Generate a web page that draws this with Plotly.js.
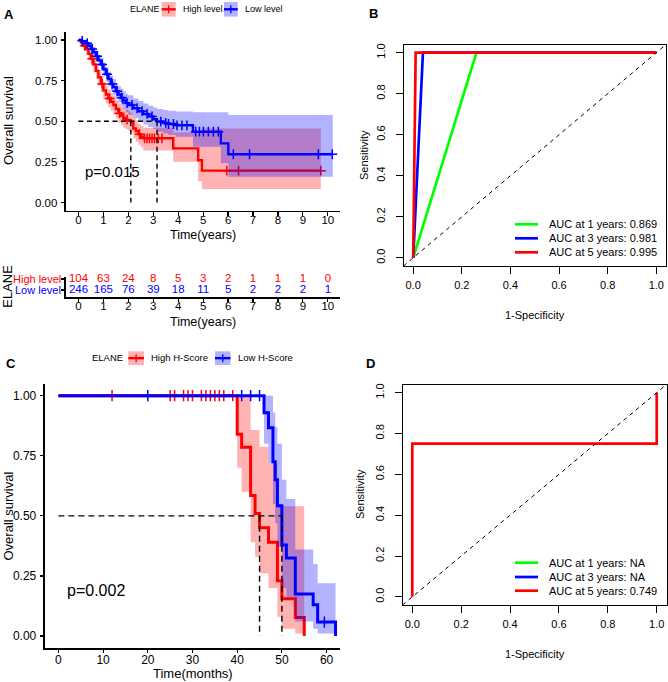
<!DOCTYPE html>
<html><head><meta charset="utf-8">
<script src="https://cdn.plot.ly/plotly-3.0.1.min.js"></script>
<style>html,body{margin:0;padding:0;background:#fff}#plot{width:668px;height:682px}</style>
</head><body><div id="plot"></div>
<script>
// ---------------- Panel A: KM (years) ----------------
const aTicks = [0,1,2,3,4,5,6,7,8,9,10];
const aRedT  = [0,0.1,0.2,0.3,0.4,0.5,0.6,0.7,0.8,0.9,1.0,1.1,1.2,1.3,1.4,1.5,1.6,1.7,1.8,1.9,2.0,2.1,2.2,2.3,2.4,2.5,2.6,3.8,4.8,4.95];
const aRedS  = [1,0.985,0.965,0.945,0.915,0.885,0.85,0.81,0.77,0.73,0.69,0.665,0.64,0.62,0.60,0.575,0.55,0.535,0.52,0.51,0.505,0.495,0.455,0.44,0.42,0.405,0.395,0.333,0.26,0.196];
const aRedUp = [1,1,0.99,0.975,0.95,0.925,0.89,0.855,0.815,0.78,0.74,0.715,0.695,0.675,0.655,0.63,0.61,0.595,0.58,0.57,0.56,0.55,0.52,0.505,0.485,0.47,0.46,0.43,0.44,0.456];
const aRedLo = [1,0.96,0.935,0.91,0.875,0.84,0.80,0.76,0.72,0.68,0.635,0.61,0.585,0.565,0.54,0.515,0.49,0.475,0.46,0.45,0.44,0.43,0.395,0.375,0.355,0.34,0.32,0.25,0.13,0.083];
const aRedEnd = 9.72;
const aRedCens = [0.25,0.55,0.95,1.25,1.65,1.95,2.45,2.65,2.75,2.85,2.95,3.05,3.2,3.35,5.95,6.42,9.72];

const aBlueT  = [0,0.1,0.2,0.3,0.4,0.5,0.6,0.7,0.8,0.9,1.0,1.1,1.2,1.3,1.4,1.5,1.6,1.7,1.8,1.9,2.0,2.2,2.4,2.6,2.8,3.0,3.15,3.4,3.6,3.9,4.59,5.71,6.01];
const aBlueS  = [1,0.995,0.99,0.98,0.965,0.945,0.925,0.90,0.875,0.85,0.82,0.79,0.76,0.73,0.71,0.685,0.665,0.645,0.628,0.612,0.60,0.58,0.562,0.545,0.53,0.512,0.498,0.49,0.483,0.475,0.436,0.364,0.297];
const aBlueUp = [1,1,1,0.995,0.985,0.97,0.955,0.935,0.91,0.89,0.86,0.835,0.805,0.78,0.76,0.735,0.715,0.70,0.685,0.67,0.66,0.64,0.625,0.61,0.595,0.585,0.575,0.57,0.565,0.56,0.555,0.555,0.538];
const aBlueLo = [1,0.985,0.975,0.965,0.945,0.92,0.895,0.865,0.84,0.81,0.78,0.745,0.715,0.685,0.66,0.635,0.615,0.595,0.575,0.555,0.54,0.52,0.50,0.48,0.465,0.45,0.435,0.425,0.415,0.405,0.343,0.241,0.159];
const aBlueEnd = 10.2;
const aBlueCens = [0.15,0.35,0.55,0.75,0.95,1.15,1.35,1.55,1.75,1.95,2.15,2.35,2.55,2.75,2.95,3.3,3.5,3.61,3.81,3.95,4.15,4.35,4.7,4.85,5.01,5.21,5.41,5.61,6.21,6.86,9.62,10.18];

const aRiskHigh = [104,63,24,8,5,3,2,1,1,1,0];
const aRiskLow  = [246,165,76,39,18,11,5,2,2,2,1];
const aGroups = ['High level','Low level'];
const aPval = 'p=0.015';

// ---------------- Panel B: ROC ----------------
const rocTicks = [0,0.2,0.4,0.6,0.8,1.0];
const bFpr1 = [0,0.26,1], bTpr1 = [0,1,1];
const bFpr3 = [0,0.04,1], bTpr3 = [0,1,1];
const bFpr5 = [0,0.01,1], bTpr5 = [0,1,1];
const bLabels = ['AUC at 1 years: 0.869','AUC at 3 years: 0.981','AUC at 5 years: 0.995'];

// ---------------- Panel C: KM (months) ----------------
const cTicks = [0,10,20,30,40,50,60];
const cRedT  = [0,40,41,43,44,45,47,49,50,53,55];
const cRedS  = [1,0.84,0.785,0.585,0.51,0.45,0.39,0.23,0.155,0.077,0];
const cRedUp = [1,1,1,0.857,0.857,0.788,0.72,0.54,0.54,0.54,0.54];
const cRedLo = [1,0.70,0.60,0.39,0.33,0.26,0.20,0.08,0.03,0.01,0.01];
const cRedCens = [12,25,26,28,29,30,32,33,34,35,36,37,39];
const cBlueT  = [0,46,47,48,48.5,49,50,51,53,57,58,62];
const cBlueS  = [1,0.929,0.867,0.725,0.65,0.542,0.379,0.325,0.175,0.13,0.058,0];
const cBlueUp = [1,1,1,0.93,0.87,0.80,0.65,0.57,0.36,0.30,0.22,0.22];
const cBlueLo = [1,0.80,0.72,0.55,0.47,0.37,0.20,0.16,0.06,0.03,0.01,0.01];
const cBlueCens = [20,41,43,45,59.5];
const cGroups = ['High H-Score','Low H-Score'];
const cPval = 'p=0.002';

// ---------------- Panel D: ROC ----------------
const dFpr5 = [0,0,1,1], dTpr5 = [0,0.75,0.75,1];
const dLabels = ['AUC at 1 years: NA','AUC at 3 years: NA','AUC at 5 years: 0.749'];

// ---------------- helpers ----------------
const W = 668, H = 682;
const px = x => x / W, py = y => 1 - y / H;
const fam = 'Liberation Sans, Arial, sans-serif';
const RED = '#FF0000', BLUE = '#0000FF', GREEN = '#00FF00';
const RED_F = 'rgba(255,0,0,0.3)', BLUE_F = 'rgba(0,0,255,0.3)';

function ext(ts, vs, end){ return end > ts[ts.length-1] ? [ts.concat([end]), vs.concat([vs[vs.length-1]])] : [ts, vs]; }
function sAt(ts, ss, t){ let v = ss[0]; for (let i=0;i<ts.length;i++) if (ts[i] <= t) v = ss[i]; return v; }
function median(ts, ss){ for (let i=0;i<ts.length;i++) if (ss[i] <= 0.5) return ts[i]; return null; }

const traces = [];
function kmGroup(ts, ss, lo, up, end, cens, col, fill, xa, ya, lw, msize){
  const [xl, yl] = ext(ts, lo, end);
  const [xu, yu] = ext(ts, up, end);
  traces.push({x:xl, y:yl, xaxis:xa, yaxis:ya, mode:'lines', line:{width:0, shape:'hv'}, hoverinfo:'skip', showlegend:false});
  traces.push({x:xu, y:yu, xaxis:xa, yaxis:ya, mode:'lines', line:{width:0, shape:'hv'}, fill:'tonexty', fillcolor:fill, hoverinfo:'skip', showlegend:false});
  const [xs, ys] = ext(ts, ss, end);
  traces.push({x:xs, y:ys, xaxis:xa, yaxis:ya, mode:'lines', line:{width:lw, color:col, shape:'hv'}, hoverinfo:'skip', showlegend:false});
  traces.push({x:cens, y:cens.map(t => sAt(ts, ss, t)), xaxis:xa, yaxis:ya, mode:'markers', cliponaxis:false,
    marker:{symbol:'cross-thin', size:msize, line:{width:1.5, color:col}, color:col}, hoverinfo:'skip', showlegend:false});
}
function medianLines(t1, s1, t2, s2, xa, ya, dash){
  const m1 = median(t1, s1), m2 = median(t2, s2);
  traces.push({x:[0, Math.max(m1, m2), null, m1, m1, null, m2, m2], y:[0.5, 0.5, null, 0.5, 0, null, 0.5, 0],
    xaxis:xa, yaxis:ya, mode:'lines', line:{color:'#000', width:1.4, dash:dash}, hoverinfo:'skip', showlegend:false});
}

// Panel A
kmGroup(aRedT, aRedS, aRedLo, aRedUp, aRedEnd, aRedCens, RED, RED_F, 'x', 'y', 2.4, 7);
kmGroup(aBlueT, aBlueS, aBlueLo, aBlueUp, aBlueEnd, aBlueCens, BLUE, BLUE_F, 'x', 'y', 2.4, 7);
medianLines(aRedT, aRedS, aBlueT, aBlueS, 'x', 'y', '5px,3.5px');

// risk table
traces.push({x:aTicks, y:aTicks.map(()=>1), text:aRiskHigh.map(String), mode:'text', xaxis:'x2', yaxis:'y2', cliponaxis:false,
  textfont:{family:fam, size:11.5, color:RED}, hoverinfo:'skip', showlegend:false});
traces.push({x:aTicks, y:aTicks.map(()=>0), text:aRiskLow.map(String), mode:'text', xaxis:'x2', yaxis:'y2', cliponaxis:false,
  textfont:{family:fam, size:11.5, color:BLUE}, hoverinfo:'skip', showlegend:false});

// Panel B
[[bFpr1,bTpr1,GREEN],[bFpr3,bTpr3,BLUE],[bFpr5,bTpr5,RED]].forEach(([f,t,c]) => {
  traces.push({x:f, y:t, xaxis:'x3', yaxis:'y3', mode:'lines', line:{color:c, width:2.7}, hoverinfo:'skip', showlegend:false});
});

// Panel C
kmGroup(cRedT, cRedS, cRedLo, cRedUp, cRedT[cRedT.length-1], cRedCens, RED, RED_F, 'x4', 'y4', 3, 8);
kmGroup(cBlueT, cBlueS, cBlueLo, cBlueUp, cBlueT[cBlueT.length-1], cBlueCens, BLUE, BLUE_F, 'x4', 'y4', 3, 8);
medianLines(cRedT, cRedS, cBlueT, cBlueS, 'x4', 'y4', '6px,4px');

// Panel D
traces.push({x:dFpr5, y:dTpr5, xaxis:'x5', yaxis:'y5', mode:'lines', line:{color:RED, width:2.7}, hoverinfo:'skip', showlegend:false});

// ---------------- axes ----------------
const tf = s => ({family:fam, size:s, color:'#000'});
function ggAxis(o){
  return Object.assign({ticks:'outside', ticklen:3.5, tickwidth:1.2, tickcolor:'#000', showline:true, linewidth:1.8,
    linecolor:'#000', showgrid:false, zeroline:false, tickfont:tf(11.5), fixedrange:true}, o);
}
function rAxis(o){
  return Object.assign({ticks:'outside', ticklen:7, tickwidth:1, tickcolor:'#000', showline:true, mirror:true, linewidth:1,
    linecolor:'#000', showgrid:false, zeroline:false, tickfont:tf(11), fixedrange:true, range:[-0.04,1.04],
    tickvals:rocTicks, tickformat:'.1f'}, o);
}

const layout = {
  width:W, height:H, margin:{l:0,r:0,t:0,b:0}, paper_bgcolor:'#fff', plot_bgcolor:'rgba(0,0,0,0)',
  font:{family:fam, color:'#000'}, showlegend:false,
  xaxis: ggAxis({domain:[px(66), px(340.3)], range:[-0.5,10.5], tickvals:aTicks, anchor:'y', ticklabelstandoff:-6}),
  yaxis: ggAxis({domain:[py(210.6), py(31.9)], range:[-0.05,1.05], tickvals:[0,0.25,0.5,0.75,1], tickformat:'.2f', anchor:'x', ticklabelstandoff:1}),
  xaxis2: ggAxis({domain:[px(66), px(340.3)], range:[-0.5,10.5], tickvals:aTicks, anchor:'y2', ticklabelstandoff:-6}),
  yaxis2: ggAxis({domain:[py(296.7), py(276.7)], range:[-0.61,1.21], tickvals:[0,1], showticklabels:false, anchor:'x2'}),
  xaxis3: rAxis({domain:[px(403.5), px(666)], anchor:'y3', ticklabelstandoff:2}),
  yaxis3: rAxis({domain:[py(266), py(44.5)], anchor:'x3', tickangle:-90, ticklabelstandoff:6}),
  xaxis4: ggAxis({domain:[px(45), px(340)], range:[-3,63], tickvals:cTicks, anchor:'y4', ticklabelstandoff:-4, tickfont:tf(12)}),
  yaxis4: ggAxis({domain:[py(648), py(383.7)], range:[-0.05,1.05], tickvals:[0,0.25,0.5,0.75,1], tickformat:'.2f', anchor:'x4', ticklabelstandoff:1, tickfont:tf(12)}),
  xaxis5: rAxis({domain:[px(402.5), px(666.5)], anchor:'y5', ticklabelstandoff:2}),
  yaxis5: rAxis({domain:[py(605), py(384.5)], anchor:'x5', tickangle:-90, ticklabelstandoff:6}),
};

// ---------------- annotations & shapes ----------------
const annotations = [];
const shapes = [];
function ann(text, x, y, size, o){
  annotations.push(Object.assign({text, x:px(x), y:py(y), xref:'paper', yref:'paper', showarrow:false,
    xanchor:'center', yanchor:'middle', font:tf(size)}, o || {}));
}
// panel letters
ann('<b>A</b>', 9, 15, 13); ann('<b>B</b>', 373, 13.5, 13); ann('<b>C</b>', 11, 363, 13); ann('<b>D</b>', 370, 363, 13);

// A titles
ann('Overall survival', 8, 121, 13, {textangle:-90});
ann('Time(years)', 203, 234.5, 12.5);
ann('ELANE', 8, 286.7, 13, {textangle:-90});
ann('Time(years)', 203, 322, 12.5);
// risk table row labels
annotations.push({text:aGroups[0], x:px(62.5), y:1, xref:'paper', yref:'y2', xanchor:'right', yanchor:'middle', showarrow:false, font:{family:fam,size:11,color:RED}});
annotations.push({text:aGroups[1], x:px(62.5), y:0, xref:'paper', yref:'y2', xanchor:'right', yanchor:'middle', showarrow:false, font:{family:fam,size:11,color:BLUE}});
// p-value
annotations.push({text:aPval, x:0.18, y:0.19, xref:'x', yref:'y', xanchor:'left', yanchor:'middle', showarrow:false, font:tf(15)});
annotations.push({text:cPval, x:1.4, y:0.19, xref:'x4', yref:'y4', xanchor:'left', yanchor:'middle', showarrow:false, font:tf(16)});

// legends for KM panels
function kmKey(x0, x1, y0, y1, col, fill){
  const yc = (y0 + y1) / 2, xc = (x0 + x1) / 2;
  shapes.push({type:'rect', xref:'paper', yref:'paper', x0:px(x0), x1:px(x1), y0:py(y1), y1:py(y0), fillcolor:fill, line:{width:0}});
  shapes.push({type:'line', xref:'paper', yref:'paper', x0:px(x0), x1:px(x1), y0:py(yc), y1:py(yc), line:{color:col, width:2.4}});
  shapes.push({type:'line', xref:'paper', yref:'paper', x0:px(xc), x1:px(xc), y0:py(yc-4), y1:py(yc+4), line:{color:col, width:1.3}});
}
ann('ELANE', 127.7, 9.3, 9, {xanchor:'left'});
kmKey(161.7, 175.7, 2, 16.6, RED, RED_F);
ann(aGroups[0], 180.5, 9.3, 9, {xanchor:'left'});
kmKey(224, 237.7, 2, 16.6, BLUE, BLUE_F);
ann(aGroups[1], 243, 9.3, 9, {xanchor:'left'});

ann('ELANE', 90, 357.8, 9.5, {xanchor:'left'});
kmKey(128.3, 144, 351.3, 365, RED, RED_F);
ann(cGroups[0], 149, 357.8, 9.5, {xanchor:'left'});
kmKey(215, 230.5, 351.3, 365, BLUE, BLUE_F);
ann(cGroups[1], 236, 357.8, 9.5, {xanchor:'left'});

// C titles
ann('Overall survival', 8, 516.5, 13, {textangle:-90});
ann('Time(months)', 192.5, 673.5, 13);

// ROC panels: titles, diagonals, legends
function rocDecor(xa, ya, yTitleX, yTitleY, xTitleY, rows, labels, colors){
  ann('Sensitivity', yTitleX, yTitleY, 11, {textangle:-90});
  ann('1-Specificity', 535, xTitleY, 11);
  shapes.push({type:'line', xref:xa+' domain', yref:ya+' domain', x0:0, y0:0, x1:1, y1:1, line:{color:'#000', width:1, dash:'4px,4px'}});
  labels.forEach((lab, i) => {
    shapes.push({type:'line', xref:'paper', yref:'paper', x0:px(515), x1:px(538), y0:py(rows[i]), y1:py(rows[i]), line:{color:colors[i], width:2.7}});
    ann(lab, 546.5, rows[i], 11, {xanchor:'left'});
  });
}
rocDecor('x3', 'y3', 364, 155, 315, [224.3, 238.3, 252.3], bLabels, [GREEN, BLUE, RED]);
rocDecor('x5', 'y5', 360, 494, 654.3, [562.7, 577, 590.7], dLabels, [GREEN, BLUE, RED]);

layout.annotations = annotations;
layout.shapes = shapes;

Plotly.newPlot('plot', traces, layout, {staticPlot:true, displayModeBar:false});
</script>
</body></html>
